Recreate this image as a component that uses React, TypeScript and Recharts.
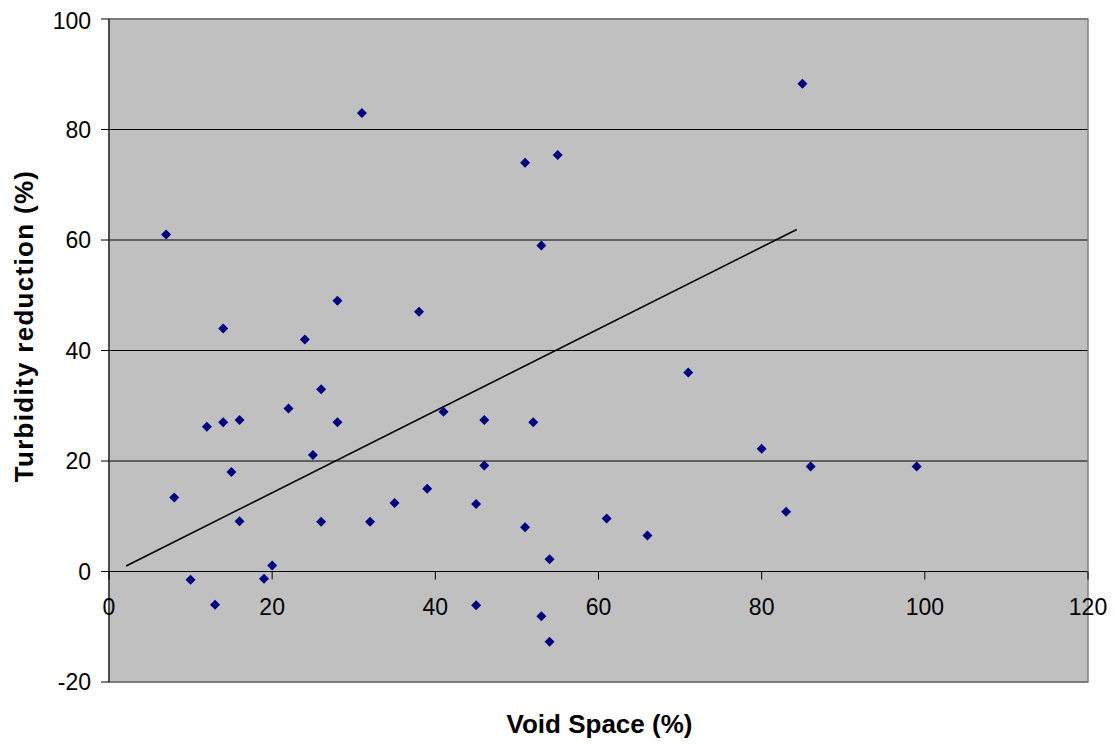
import React from "react";
import {
  ScatterChart,
  Scatter,
  XAxis,
  YAxis,
  CartesianGrid,
  ReferenceLine,
  ReferenceDot,
  ReferenceArea,
  Label,
} from "recharts";

const voidSpace = [
  7, 8, 10, 12, 13, 14, 14, 15, 16, 16, 19, 20, 22, 24, 25, 26, 26, 28, 28, 31,
  32, 35, 38, 39, 41, 45, 45, 46, 46, 51, 51, 52, 53, 53, 54, 54, 55, 61, 66,
  71, 80, 83, 85, 86, 99,
];
const turbidity = [
  61, 13.4, -1.5, 26.2, -6, 44, 27, 18, 27.4, 9.1, -1.3, 1.1, 29.5, 42, 21.1,
  33, 9, 49, 27, 83, 9, 12.4, 47, 15, 28.9, 12.2, -6.1, 27.4, 19.2, 74, 8, 27,
  59, -8.1, 2.2, -12.7, 75.4, 9.6, 6.5, 36, 22.2, 10.8, 88.3, 19, 19,
];
const trendX = [2.1, 84.3];
const trendY = [1.0, 61.9];
const xTicks = [0, 20, 40, 60, 80, 100, 120];
const yTicks = [-20, 0, 20, 40, 60, 80, 100];

const points = voidSpace.map((x, i) => ({ x, y: turbidity[i] }));
const trend = trendX.map((x, i) => ({ x, y: trendY[i] }));

const FONT = "Arial, 'Liberation Sans', sans-serif";

const Diamond = (props: any) => {
  const { cx, cy } = props;
  const r = 5;
  return (
    <polygon
      points={`${cx},${cy - r} ${cx + r},${cy} ${cx},${cy + r} ${cx - r},${cy}`}
      fill="#000080"
    />
  );
};

const XTickMark = (value: number) => (props: any) => {
  const { cx, cy } = props;
  return (
    <g>
      <line x1={cx} y1={cy} x2={cx} y2={cy + 8} stroke="#000" strokeWidth={1} />
      <text
        x={cx}
        y={cy + 43}
        textAnchor="middle"
        fontSize={23}
        fontFamily={FONT}
        fill="#000"
      >
        {value}
      </text>
    </g>
  );
};

export default function App() {
  return (
    <ScatterChart
      width={1100}
      height={736}
      margin={{ top: 11, right: 20, bottom: 0, left: 0 }}
      style={{ overflow: "visible" }}
    >
      <CartesianGrid
        vertical={false}
        stroke="#000"
        strokeWidth={1}
        fill="#C0C0C0"
        fillOpacity={1}
      />
      <XAxis
        type="number"
        dataKey="x"
        domain={[0, 120]}
        ticks={xTicks}
        tick={false}
        tickLine={false}
        axisLine={false}
        height={62}
      >
        <Label
          content={(p: any) => {
            const vb = p.viewBox;
            return (
              <text
                x={vb.x + vb.width / 2 + 1}
                y={vb.y + 51}
                textAnchor="middle"
                fontSize={26}
                fontWeight="bold"
                fontFamily={FONT}
                fill="#000"
              >
                Void Space (%)
              </text>
            );
          }}
        />
      </XAxis>
      <YAxis
        type="number"
        dataKey="y"
        domain={[-20, 100]}
        ticks={yTicks}
        width={101}
        tickSize={8}
        tickMargin={10}
        tickLine={{ stroke: "#000" }}
        axisLine={{ stroke: "#000" }}
        tick={{ fontSize: 23, fill: "#000", fontFamily: FONT }}
      >
        <Label
          content={() => {
            const cx = 16;
            const cy = 318;
            return (
              <text
                x={cx}
                y={cy}
                transform={`rotate(-90, ${cx}, ${cy})`}
                textAnchor="middle"
                dominantBaseline="central"
                fontSize={26}
                fontWeight="bold"
                letterSpacing={1.3}
                fontFamily={FONT}
                fill="#000"
              >
                Turbidity reduction (%)
              </text>
            );
          }}
        />
      </YAxis>
      <ReferenceArea
        x1={0}
        x2={120}
        y1={-20}
        y2={100}
        fill="none"
        stroke="#808080"
        strokeWidth={1.5}
      />
      {xTicks.map((v) => (
        <ReferenceDot key={v} x={v} y={0} shape={XTickMark(v)} />
      ))}
      <ReferenceLine
        segment={[trend[0], trend[1]]}
        stroke="#000"
        strokeWidth={1.5}
      />
      <Scatter
        data={points}
        shape={<Diamond />}
        isAnimationActive={false}
      />
    </ScatterChart>
  );
}
